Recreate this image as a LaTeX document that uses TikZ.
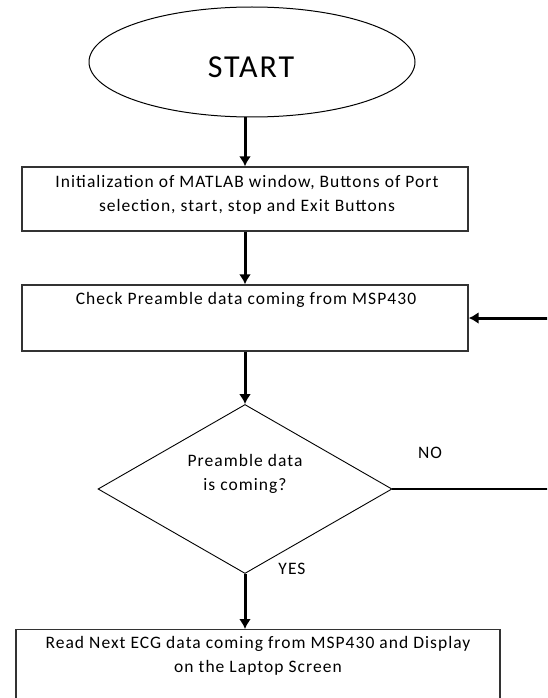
\documentclass[tikz,border=0pt]{standalone}
\usepackage{fontspec}
\setmainfont{Carlito}
\usetikzlibrary{arrows.meta,shapes.geometric}

\begin{document}
\begin{tikzpicture}[>=Latex, x=1pt, y=-1pt]

% ---------- styles ----------
\tikzset{
  flow/.style={-{Latex[length=10pt,width=12pt]}, line width=3pt},
  backline/.style={line width=1.5pt},
  procbox/.style={draw=black!80, line width=1.4pt, minimum width=446pt,
    minimum height=64pt, inner sep=0pt},
  terminal/.style={draw, ellipse, line width=1pt, minimum width=326pt,
    minimum height=110pt, inner sep=0pt},
  decision/.style={draw, diamond, line width=0.9pt, minimum width=294pt,
    minimum height=169pt, inner sep=0pt},
  txt/.style={font=\addfontfeature{LetterSpace=6}\fontsize{17.5}{24.5}\selectfont,
    align=center, inner sep=0pt}
}

% ---------- page ----------
\clip (0,0) rectangle (547,698);

% ---------- start ----------
\node[terminal] (start) at (252,62) {};
\node[font=\addfontfeature{LetterSpace=6}\fontsize{32}{38}\selectfont, inner sep=0pt]
  (starttext) at (251,67) {START};

% ---------- initialization ----------
\node[procbox] (init) at (245,199) {};
\node[txt] (inittext) at (247,195)
  {Initialization of MATLAB window, Buttons of Port\\selection, start, stop and Exit Buttons};

% ---------- preamble check ----------
\node[procbox, minimum height=66pt] (check) at (245,318) {};
\node[txt] (checktext) at (246,300) {Check Preamble data coming from MSP430};

% ---------- decision ----------
\node[decision] (decide) at (245,489) {};
\node[txt] (decidetext) at (245,474) {Preamble data\\is coming?};
\node[txt] (no) at (430,453) {NO};
\node[txt] (yes) at (292,569) {YES};

% ---------- read and display ----------
\node[procbox, minimum width=484pt, minimum height=90pt, anchor=north] (read) at (258,629) {};
\node[txt] (readtext) at (258,656)
  {Read Next ECG data coming from MSP430 and Display\\on the Laptop Screen};

% ---------- connectors ----------
\draw[flow] (start.south -| init.north) -- (init.north);
\draw[flow] (init) -- (check);
\draw[flow] (check) -- (decide);
\draw[flow] (decide.south) -- (decide.south |- read.north);

% NO branch back to the check
\coordinate (loopbottom) at (565,489);
\coordinate (looptop) at (565,318);
\draw[backline] (decide.east) -- (loopbottom) -- (looptop);
\draw[flow] (looptop) -- (check.east);

\end{tikzpicture}
\end{document}
